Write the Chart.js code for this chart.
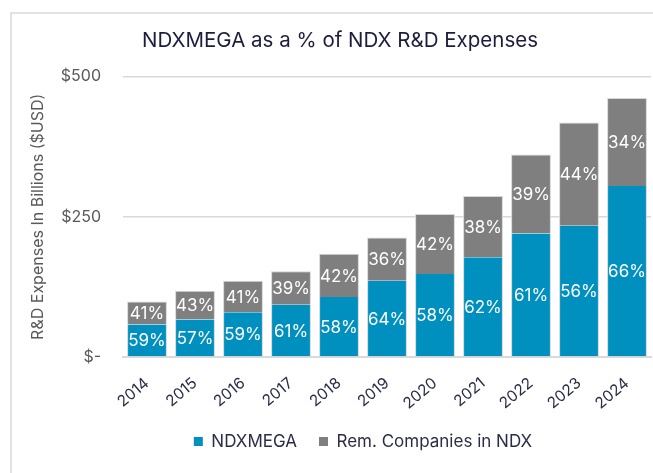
<!DOCTYPE html>
<html>
<head>
<meta charset="utf-8">
<script src="https://cdn.jsdelivr.net/npm/chart.js@4/dist/chart.umd.min.js"></script>
<style>
  html, body { margin: 0; padding: 0; background: #fff; overflow: hidden; }
  #frame {
    position: absolute; left: 10px; top: 12px;
    width: 656px; height: 461px;
    border-left: 2px solid #e2e2e2; border-top: 2px solid #e2e2e2;
  }
</style>
</head>
<body>
<div id="frame"><canvas id="our-chart" width="656" height="461"></canvas></div>
<script>
// Data (billions USD)
const years = ['2014', '2015', '2016', '2017', '2018', '2019', '2020', '2021', '2022', '2023', '2024'];
const ndxmega = [58, 67, 80, 93, 107, 136, 148, 178, 220, 234, 305];
const remaining = [41, 51, 56, 60, 77, 77, 107, 109, 141, 184, 157];
const megaPct = [59, 57, 59, 61, 58, 64, 58, 62, 61, 56, 66];
const remPct = [41, 43, 41, 39, 42, 36, 42, 38, 39, 44, 34];
const yTicks = [0, 250, 500];
const yTickLabels = ['$-', '$250', '$500'];

const FONT = 'Inter, "Noto Sans", sans-serif';

// draws the % labels in the middle of each bar segment
const pctLabels = {
  id: 'pctLabels',
  afterDatasetsDraw(chart) {
    const ctx = chart.ctx;
    const labels = [megaPct, remPct];
    ctx.save();
    ctx.fillStyle = '#ffffff';
    ctx.font = '17px ' + FONT;
    ctx.textAlign = 'center';
    ctx.textBaseline = 'middle';
    chart.data.datasets.forEach((ds, di) => {
      chart.getDatasetMeta(di).data.forEach((bar, i) => {
        ctx.fillText(labels[di][i] + '%', bar.x, (bar.y + bar.base) / 2 + 1);
      });
    });
    ctx.restore();
  }
};

// legend sits a bit right of the title in the original
const legendShift = {
  id: 'legendShift',
  afterLayout(chart) {
    chart.legend.left += 23;
    chart.legend.right += 23;
  }
};

showChart();
function showChart() {
  const ctx = document.getElementById('our-chart').getContext('2d');
  const myChart = new Chart(ctx, {
    type: 'bar',
    data: {
      labels: years,
      datasets: [{
        label: 'NDXMEGA',
        data: ndxmega,
        backgroundColor: '#0090bf',
        borderColor: '#d6d6d6',
        borderWidth: {left: 1, right: 1, top: 0, bottom: 0},
        borderSkipped: false,
      }, {
        label: 'Rem. Companies in NDX',
        data: remaining,
        backgroundColor: '#7f7f7f',
        borderColor: '#d6d6d6',
        borderWidth: {left: 1, right: 1, top: 1, bottom: 0},
        borderSkipped: false,
      }]
    },
    options: {
      responsive: false,
      animation: false,
      barPercentage: 0.83,
      categoryPercentage: 1,
      layout: { padding: {left: 17, right: 17, top: 0, bottom: 15} },
      plugins: {
        title: {
          display: true,
          text: 'NDXMEGA as a % of NDX R&D Expenses',
          color: '#1c1d3d',
          font: {family: FONT, size: 20.5, weight: 'normal'},
          padding: {top: 15, bottom: 23}
        },
        legend: {
          position: 'bottom',
          labels: {
            color: '#2b2d48',
            font: {family: FONT, size: 17},
            boxWidth: 9,
            boxHeight: 9,
            padding: 22,
            generateLabels(chart) {
              return chart.data.datasets.map((ds, i) => ({
                text: ds.label,
                fillStyle: ds.backgroundColor,
                strokeStyle: ds.backgroundColor,
                lineWidth: 0,
                fontColor: '#2b2d48',
                datasetIndex: i
              }));
            }
          }
        },
        tooltip: { enabled: false }
      },
      scales: {
        x: {
          stacked: true,
          clip: false,
          grid: { display: false },
          border: { display: true, color: '#d9d9d9', width: 2 },
          ticks: {
            color: '#2b2d48',
            font: {family: FONT, size: 15.5},
            minRotation: 40,
            maxRotation: 40,
            padding: 9
          },
          afterFit(axis) { axis.height = 54; }
        },
        y: {
          stacked: true,
          min: 0,
          max: 500,
          afterBuildTicks(axis) { axis.ticks = yTicks.map(v => ({value: v})); },
          grid: { color: '#d9d9d9', lineWidth: 1.5, drawTicks: false },
          border: { display: false },
          ticks: {
            color: '#595959',
            font: {family: FONT, size: 16},
            padding: 22,
            callback: (v) => yTickLabels[yTicks.indexOf(v)]
          },
          title: {
            display: true,
            text: 'R&D Expenses In Billions ($USD)',
            color: '#595959',
            font: {family: FONT, size: 16},
            padding: {top: 0, bottom: 4}
          },
          afterFit(axis) { axis.width = 94; }
        }
      }
    },
    plugins: [pctLabels, legendShift]
  });
}
</script>
</body>
</html>
